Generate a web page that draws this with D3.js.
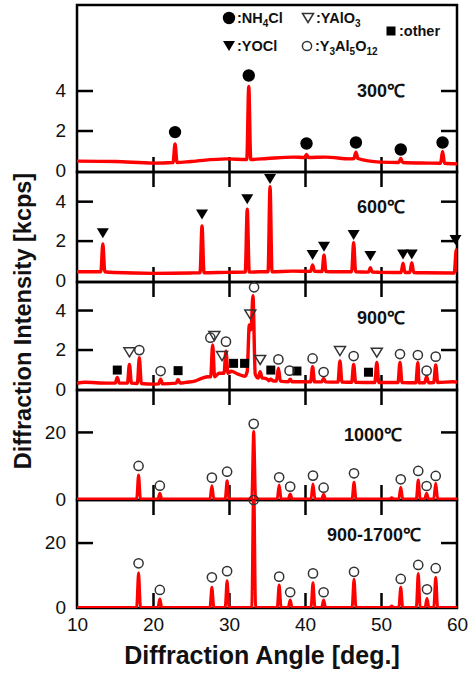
<!DOCTYPE html>
<html>
<head>
<meta charset="utf-8">
<script src="https://cdn.jsdelivr.net/npm/d3@7"></script>
<style>
  body { margin: 0; background: #fff; }
  text { font-family: "Liberation Sans", Arial, sans-serif; fill: #111; }
</style>
</head>
<body>
<div id="chart"></div>
<script>
// x ticks (deg.)
const xTickLabels = [10, 20, 30, 40, 50, 60];
const xInnerTicks = [20, 30, 40, 50];

// panel names
const panelLabels = ['300℃', '600℃', '900℃', '1000℃', '900-1700℃'];
const yTicksSmall = [2, 4];
const yTicksLarge = [20];

// baseline points [angle, intensity]
const base300 = [[10, 0.47], [15, 0.45], [20, 0.37], [25, 0.45], [29.7, 0.58], [35, 0.6], [38.5, 0.67],
  [42.7, 0.67], [46, 0.58], [49.9, 0.42], [56.2, 0.37], [60, 0.33]];
const base600 = [[10, 0.42], [15, 0.38], [20, 0.34], [25, 0.36], [29.6, 0.39], [34, 0.42], [38.3, 0.45],
  [44, 0.42], [49.8, 0.39], [55, 0.37], [59.3, 0.36]];
const base900 = [[10, 0.29], [11, 0.34], [14, 0.3], [20, 0.25], [24.4, 0.34], [25.5, 0.4], [26.5, 0.55],
  [27.2, 0.62], [28.7, 0.8], [30.3, 0.9], [31.2, 0.75], [32.1, 0.65], [32.4, 0.9], [32.67, 3.24],
  [32.9, 3.0], [33.15, 4.72], [33.45, 0.75], [34.6, 0.55], [35.2, 0.45], [38.3, 0.37], [44, 0.35],
  [49.8, 0.33], [55, 0.32], [59.5, 0.37], [60, 0.35]];
const base1000 = [[10, 0], [60, 0]];
const base1700 = [[10, 0], [60, 0]];

// peaks [angle, top, foot]
const peaks300 = [[22.9, 1.33, 0.4], [32.6, 4.2, 0.55], [40.2, 0.8, 0.65], [46.7, 0.92, 0.6],
  [52.6, 0.6, 0.4], [58.1, 0.95, 0.36]];
const peaks600 = [[13.4, 1.83, 0.42], [26.45, 2.74, 0.37], [32.4, 3.59, 0.4], [35.4, 4.74, 0.42],
  [41.0, 0.76, 0.44], [42.5, 1.27, 0.43], [46.4, 1.9, 0.42], [48.6, 0.62, 0.4], [52.9, 0.85, 0.38],
  [54.05, 0.88, 0.38], [59.9, 1.52, 0.36]];
const peaks900 = [[15.3, 0.59, 0.3], [16.9, 1.25, 0.3], [18.2, 1.58, 0.28], [21.0, 0.5, 0.26],
  [23.3, 0.49, 0.3], [27.85, 2.23, 0.62], [29.6, 1.92, 0.8], [34.1, 0.88, 0.55], [35.5, 0.5, 0.42],
  [36.5, 1.05, 0.4], [38.05, 0.5, 0.37], [41.0, 1.13, 0.36], [42.45, 0.54, 0.36], [44.6, 1.42, 0.35],
  [46.4, 1.25, 0.34], [49.45, 1.35, 0.33], [52.5, 1.35, 0.33], [54.85, 1.33, 0.32], [56.0, 0.62, 0.32],
  [57.2, 1.22, 0.33]];
const peaks1000 = [[18.1, 7.16, 0], [20.9, 1.7, 0], [27.75, 3.97, 0], [29.75, 5.46, 0], [33.25, 20.1, 0],
  [36.6, 4.18, 0], [38.05, 1.49, 0], [41.05, 4.48, 0], [42.45, 1.4, 0], [46.45, 4.97, 0], [51.4, 0.4, 0],
  [52.6, 3.48, 0], [54.9, 5.67, 0], [56.0, 1.7, 0], [57.2, 4.68, 0]];
const peaks1700 = [[18.1, 10.7, 0], [20.9, 2.6, 0], [27.75, 6.2, 0], [29.75, 8.25, 0], [33.25, 40, 0],
  [36.6, 6.9, 0], [38.05, 2.3, 0], [41.05, 7.6, 0], [42.45, 2.3, 0], [46.45, 8.7, 0], [51.4, 0.5, 0],
  [52.6, 6.2, 0], [54.9, 10.5, 0], [56.05, 2.8, 0], [57.2, 9.3, 0]];

// phase markers [angle, intensity]
const nh4clMarks = [[22.9, 1.92], [32.6, 4.75], [40.2, 1.35], [46.7, 1.4], [52.6, 1.05], [58.1, 1.4]];
const yoclMarks = [[13.4, 2.37], [26.45, 3.33], [32.4, 4.1], [35.4, 5.13], [41.0, 1.27], [42.5, 1.69],
  [46.4, 2.28], [48.6, 1.22], [52.9, 1.3], [54.05, 1.3], [59.8, 2.03]];
const yagMarks900 = [[18.2, 1.97], [21.0, 0.91], [27.55, 2.6], [29.6, 2.4], [33.3, 5.15], [36.5, 1.5],
  [37.97, 0.93], [41.0, 1.55], [42.45, 0.86], [46.4, 1.67], [52.5, 1.77], [54.85, 1.72], [56.0, 0.93],
  [57.2, 1.64]];
const yapMarks900 = [[16.9, 1.86], [28.07, 2.68], [29.08, 1.67], [32.8, 3.78], [34.1, 1.47], [44.6, 1.92],
  [49.45, 1.84]];
const otherMarks900 = [[15.3, 0.96], [23.3, 0.93], [30.6, 1.3], [32.05, 1.3], [35.5, 0.96], [38.94, 0.91],
  [48.35, 0.85]];
const yagMarks1000 = [[18.1, 9.85], [20.9, 3.97], [27.75, 6.37], [29.75, 8.15], [33.25, 22.4], [36.6, 6.47],
  [38.05, 3.68], [41.05, 6.97], [42.45, 3.38], [46.45, 7.66], [52.6, 5.87], [54.9, 8.36], [56.0, 3.88],
  [57.2, 6.87]];
const yagMarks1700 = [[18.1, 13.6], [20.9, 5.4], [27.75, 9.3], [29.75, 11.2], [33.25, 33.1], [36.6, 9.5],
  [38.05, 4.7], [41.05, 10.5], [42.45, 4.7], [46.45, 11.0], [52.6, 8.8], [54.9, 13.1], [56.05, 5.6],
  [57.2, 12.1]];

const width = 468;
const height = 675;
const left = 77;
const right = 457;
const peakHalf = 0.26;

const svg = d3.select('#chart').append('svg')
  .attr('width', width)
  .attr('height', height);

const x = d3.scaleLinear().domain([10, 60]).range([left, right]);

const panels = [
  { top: 5, bottom: 172, domain: [-0.075, 8.275], ticks: yTicksSmall, base: base300, peaks: peaks300,
    label: panelLabels[0], lx: 381, ly: 97, topTicks: false, sw: 3.4 },
  { top: 172, bottom: 282, domain: [-0.1, 5.48], ticks: yTicksSmall, base: base600, peaks: peaks600,
    label: panelLabels[1], lx: 381, ly: 213, topTicks: true, sw: 3.4 },
  { top: 282, bottom: 390, domain: [-0.05, 5.42], ticks: yTicksSmall, base: base900, peaks: peaks900,
    label: panelLabels[2], lx: 381, ly: 324, topTicks: true, sw: 3.4 },
  { top: 390, bottom: 500, domain: [-0.3, 32.5], ticks: yTicksLarge, base: base1000, peaks: peaks1000,
    label: panelLabels[3], lx: 373, ly: 441, topTicks: true, sw: 3 },
  { top: 500, bottom: 608, domain: [-0.15, 33.1], ticks: yTicksLarge, base: base1700, peaks: peaks1700,
    label: panelLabels[4], lx: 374, ly: 541, topTicks: true, sw: 3 },
];

panels.forEach((p) => {
  p.y = d3.scaleLinear().domain(p.domain).range([p.bottom, p.top]);
});

const line = d3.line()
  .x(d => x(d[0]))
  .y(d => d.y(d[1]))
  .curve(d3.curveMonotoneX);

// frames and ticks
panels.forEach((p, i) => {
  const g = svg.append('g');

  g.append('g')
    .attr('transform', `translate(${left},0)`)
    .call(d3.axisLeft(p.y).tickValues(p.ticks).tickSize(-16).tickPadding(11).tickFormat(d3.format('d')))
    .call(a => a.select('.domain').remove())
    .call(a => a.selectAll('line').attr('stroke', '#000').attr('stroke-width', 2.5))
    .call(a => a.selectAll('text').attr('font-size', 19).attr('fill', '#111')
      .style('font-family', '"Liberation Sans", Arial, sans-serif'));

  // zero label
  g.append('text')
    .attr('x', left - 11)
    .attr('y', p.y(0))
    .attr('dy', '0.36em')
    .attr('text-anchor', 'end')
    .attr('font-size', 19)
    .text('0');

  g.append('g')
    .attr('transform', `translate(${right},0)`)
    .call(d3.axisRight(p.y).tickValues(p.ticks).tickSize(-16).tickFormat(''))
    .call(a => a.select('.domain').remove())
    .call(a => a.selectAll('line').attr('stroke', '#000').attr('stroke-width', 2.5));

  g.append('g')
    .attr('transform', `translate(0,${p.bottom})`)
    .call(d3.axisBottom(x).tickValues(xInnerTicks).tickSize(-15).tickFormat(''))
    .call(a => a.select('.domain').remove())
    .call(a => a.selectAll('line').attr('stroke', '#000').attr('stroke-width', 2.5));

  if (p.topTicks) {
    g.append('g')
      .attr('transform', `translate(0,${p.top})`)
      .call(d3.axisTop(x).tickValues(xInnerTicks).tickSize(-15).tickFormat(''))
      .call(a => a.select('.domain').remove())
      .call(a => a.selectAll('line').attr('stroke', '#000').attr('stroke-width', 2.5));
  }

  g.append('rect')
    .attr('x', left)
    .attr('y', p.top)
    .attr('width', right - left)
    .attr('height', p.bottom - p.top)
    .attr('fill', 'none')
    .attr('stroke', '#000')
    .attr('stroke-width', 2.5);

  svg.append('clipPath')
    .attr('id', `clip${i}`)
    .append('rect')
    .attr('x', left - 2)
    .attr('y', p.top)
    .attr('width', right - left + 2)
    .attr('height', p.bottom - p.top);
});

// traces
panels.forEach((p, i) => {
  const pts = p.base.slice();
  p.peaks.forEach((k) => {
    pts.push([k[0] - peakHalf, k[2]], [k[0], k[1]], [k[0] + peakHalf, k[2]]);
  });
  pts.sort((a, b) => a[0] - b[0]);
  pts.forEach((d) => { d.y = p.y; });

  svg.append('path')
    .datum(pts)
    .attr('clip-path', `url(#clip${i})`)
    .attr('d', line)
    .attr('fill', 'none')
    .attr('stroke', '#ff0000')
    .attr('stroke-width', p.sw)
    .attr('stroke-linejoin', 'round');

  svg.append('text')
    .attr('x', p.lx)
    .attr('y', p.ly)
    .attr('text-anchor', 'middle')
    .attr('font-size', 18)
    .attr('font-weight', 'bold')
    .text(p.label);
});

// marker shapes
const shapes = {
  dot: (g, cx, cy) => g.append('circle').attr('cx', cx).attr('cy', cy).attr('r', 6.2).attr('fill', '#000'),
  ring: (g, cx, cy) => g.append('circle').attr('cx', cx).attr('cy', cy).attr('r', 4.6)
    .attr('fill', 'none').attr('stroke', '#333').attr('stroke-width', 1.5),
  down: (g, cx, cy) => g.append('path')
    .attr('d', `M${cx - 6},${cy - 5}L${cx + 6},${cy - 5}L${cx},${cy + 5}Z`).attr('fill', '#000'),
  downOpen: (g, cx, cy) => g.append('path')
    .attr('d', `M${cx - 5.5},${cy - 4.5}L${cx + 5.5},${cy - 4.5}L${cx},${cy + 4.5}Z`)
    .attr('fill', 'none').attr('stroke', '#333').attr('stroke-width', 1.5),
  square: (g, cx, cy) => g.append('rect').attr('x', cx - 4.5).attr('y', cy - 4.5)
    .attr('width', 9).attr('height', 9).attr('fill', '#000'),
};

const markerSets = [
  [0, nh4clMarks, 'dot'],
  [1, yoclMarks, 'down'],
  [2, otherMarks900, 'square'],
  [2, yagMarks900, 'ring'],
  [2, yapMarks900, 'downOpen'],
  [3, yagMarks1000, 'ring'],
  [4, yagMarks1700, 'ring'],
];

const mg = svg.append('g');
markerSets.forEach(([pi, data, shape]) => {
  data.forEach((d) => shapes[shape](mg, x(d[0]), panels[pi].y(d[1])));
});

// legend
const lg = svg.append('g').attr('font-size', 14.5).attr('font-weight', 'bold');
const legend = [
  { shape: 'dot', cx: 229, cy: 18, parts: [[':NH', 0], ['4', 1], ['Cl', 0]] },
  { shape: 'downOpen', cx: 308, cy: 18, parts: [[':YAlO', 0], ['3', 1]] },
  { shape: 'square', cx: 391, cy: 31, parts: [[':other', 0]] },
  { shape: 'down', cx: 229, cy: 46, parts: [[':YOCl', 0]] },
  { shape: 'ring', cx: 307, cy: 46, parts: [[':Y', 0], ['3', 1], ['Al', 0], ['5', 1], ['O', 0], ['12', 1]] },
];
legend.forEach((l) => {
  shapes[l.shape](lg, l.cx, l.cy);
  const t = lg.append('text').attr('x', l.cx + 8).attr('y', l.cy + 5);
  let prev = 0;
  l.parts.forEach(([s, sub]) => {
    t.append('tspan')
      .attr('dy', (sub - prev) * 4)
      .attr('font-size', sub ? 10 : 14.5)
      .text(s);
    prev = sub;
  });
});

// bottom axis labels
svg.append('g')
  .attr('transform', `translate(0,${panels[4].bottom})`)
  .call(d3.axisBottom(x).tickValues(xTickLabels).tickSize(0).tickPadding(10).tickFormat(d3.format('d')))
  .call(a => a.select('.domain').remove())
  .call(a => a.selectAll('text').attr('font-size', 19).attr('fill', '#111')
    .style('font-family', '"Liberation Sans", Arial, sans-serif'));

svg.append('text')
  .attr('x', 262)
  .attr('y', 664)
  .attr('text-anchor', 'middle')
  .attr('font-size', 25)
  .attr('font-weight', 'bold')
  .text('Diffraction Angle [deg.]');

svg.append('text')
  .attr('transform', 'translate(31,321) rotate(-90)')
  .attr('text-anchor', 'middle')
  .attr('font-size', 23.5)
  .attr('font-weight', 'bold')
  .text('Diffraction Intensity [kcps]');
</script>
</body>
</html>
